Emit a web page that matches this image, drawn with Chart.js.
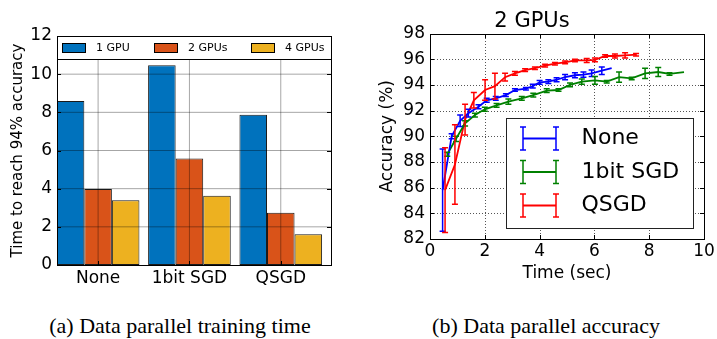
<!DOCTYPE html>
<html><head><meta charset="utf-8">
<script src="https://cdn.jsdelivr.net/npm/chart.js@4.4.1/dist/chart.umd.min.js"></script>
<style>
body{margin:0;background:#fff;width:717px;height:339px;overflow:hidden;position:relative;}
#c1{position:absolute;left:0;top:0;}
#c2{position:absolute;left:360px;top:0;}
.cap{position:absolute;top:313px;font-family:"Liberation Serif";font-size:22px;line-height:26px;white-space:nowrap;transform:translateX(-50%);color:#000;}
</style></head><body>
<canvas id="c1" width="360" height="300"></canvas>
<canvas id="c2" width="357" height="300"></canvas>
<div class="cap" style="left:180px">(a) Data parallel training time</div>
<div class="cap" style="left:546px">(b) Data parallel accuracy</div>
<script>
// ---- Left chart data ----
const methods = ['None', '1bit SGD', 'QSGD'];
const barLabels = ['1 GPU', '2 GPUs', '4 GPUs'];
const gpu1 = [8.6, 10.47, 7.87];
const gpu2 = [3.98, 5.58, 2.74];
const gpu4 = [3.39, 3.63, 1.61];
const leftYTicks = [0, 2, 4, 6, 8, 10, 12];

// ---- Right chart data ----
const lineLabels = ['None', '1bit SGD', 'QSGD'];
const noneT   = [0.46, 0.79, 1.1, 1.4, 1.77, 2.07, 2.4, 2.77, 3.1, 3.5, 3.75, 4.0, 4.32, 4.62, 4.93, 5.29, 5.6, 5.9, 6.27, 6.63];
const noneAcc = [85.8, 90.0, 91.2, 91.8, 92.3, 92.8, 92.95, 93.2, 93.6, 93.7, 93.9, 94.2, 94.25, 94.4, 94.6, 94.75, 94.8, 94.9, 95.1, 95.3];
const noneErr = [3.2, 0.2, 0.45, 0.3, 0.15, 0.15, 0.15, 0.1, 0.1, 0.1, 0.15, 0.15, 0.15, 0.15, 0.2, 0.2, 0.2, 0.25, 0.3, 0];
const sgdT   = [0.63, 0.95, 1.28, 1.64, 2.0, 2.43, 2.86, 3.35, 3.77, 4.26, 4.69, 5.11, 5.54, 6.02, 6.45, 6.9, 7.36, 7.85, 8.33, 8.74, 9.27];
const sgdAcc = [88.6, 89.8, 91.0, 91.65, 92.1, 92.4, 92.7, 92.95, 93.2, 93.55, 93.6, 94.0, 94.25, 94.35, 94.25, 94.6, 94.5, 94.9, 95.0, 94.85, 95.0];
const sgdErr = [0.15, 0.2, 0.2, 0.15, 0.15, 0.15, 0.2, 0.15, 0.15, 0.15, 0.1, 0.15, 0.2, 0.3, 0.1, 0.4, 0.1, 0.4, 0.35, 0.1, 0];
const qsgdT   = [0.55, 0.91, 1.28, 1.6, 2.01, 2.37, 2.74, 3.1, 3.47, 3.83, 4.2, 4.56, 4.93, 5.29, 5.72, 6.02, 6.39, 6.75, 7.12, 7.52];
const qsgdAcc = [85.8, 87.8, 91.3, 92.8, 93.6, 93.9, 94.6, 94.9, 95.15, 95.3, 95.5, 95.65, 95.75, 95.9, 95.9, 95.95, 96.25, 96.25, 96.3, 96.35];
const qsgdErr = [3.3, 3.1, 1.2, 0.6, 0.8, 1.0, 0.3, 0.15, 0.1, 0.1, 0.1, 0.1, 0.1, 0.1, 0.15, 0.15, 0.1, 0.15, 0.2, 0.1];
const accTicks = [82, 84, 86, 88, 90, 92, 94, 96, 98];
const timeTicks = [0, 2, 4, 6, 8, 10];

Chart.defaults.font.family = '"DejaVu Sans"';
Chart.defaults.color = '#000';

const noGrid = {display: false, drawTicks: false};
const noBorder = {display: false};

function drawGridDots(ctx, chart, xVals, yVals, topSkip) {
  const a = chart.chartArea;
  const xs = chart.scales.x, ys = chart.scales.y;
  const L = Math.round(a.left), R = Math.round(a.right), T = Math.round(a.top), B = Math.round(a.bottom);
  ctx.save();
  ctx.fillStyle = '#555';
  xVals.forEach(v => {
    const px = Math.round(xs.getPixelForValue(v));
    if (!(px > L + 1 && px < R - 1)) return;
    for (let yy = T + 1 + topSkip; yy < B; yy += 3) ctx.fillRect(px, yy, 1, 1);
  });
  yVals.forEach(v => {
    const py = Math.round(ys.getPixelForValue(v));
    if (!(py > T + 1 + topSkip && py < B - 1)) return;
    for (let xx = L + 1; xx < R; xx += 3) ctx.fillRect(xx, py, 1, 1);
  });
  ctx.restore();
}

function strokeGridLines(ctx, chart, xVals, yVals, topSkip) {
  const a = chart.chartArea;
  const xs = chart.scales.x, ys = chart.scales.y;
  ctx.save();
  ctx.strokeStyle = 'rgba(0,0,0,0.35)';
  ctx.lineWidth = 1;
  ctx.beginPath();
  xVals.forEach(v => {
    const px = xs.getPixelForValue(v);
    if (!(px > a.left + 1 && px < a.right - 1)) return;
    ctx.moveTo(px, a.top + topSkip); ctx.lineTo(px, a.bottom);
  });
  yVals.forEach(v => {
    const py = ys.getPixelForValue(v);
    if (!(py > a.top + topSkip + 1 && py < a.bottom - 1)) return;
    ctx.moveTo(a.left, py); ctx.lineTo(a.right, py);
  });
  ctx.stroke();
  ctx.restore();
}

function drawFrameTicks(ctx, chart, xVals, yVals) {
  const a = chart.chartArea;
  const xs = chart.scales.x, ys = chart.scales.y;
  const L = Math.round(a.left), R = Math.round(a.right), T = Math.round(a.top), B = Math.round(a.bottom);
  ctx.save();
  ctx.fillStyle = '#000';
  xVals.forEach(v => {
    const px = Math.round(xs.getPixelForValue(v));
    ctx.fillRect(px, B - 4, 1, 4);
    ctx.fillRect(px, T, 1, 4);
  });
  yVals.forEach(v => {
    const py = Math.round(ys.getPixelForValue(v));
    ctx.fillRect(L, py, 4, 1);
    ctx.fillRect(R - 4, py, 4, 1);
  });
  ctx.fillRect(L, T, R - L + 1, 1);
  ctx.fillRect(L, B, R - L + 1, 1);
  ctx.fillRect(L, T, 1, B - T + 1);
  ctx.fillRect(R, T, 1, B - T + 1);
  ctx.restore();
}

const barLegend = {
  id: 'barLegend',
  afterDraw(chart) {
    const {ctx, chartArea: a} = chart;
    const h = 23;
    const L = Math.round(a.left), R = Math.round(a.right), T = Math.round(a.top);
    ctx.save();
    ctx.fillStyle = '#000';
    ctx.fillRect(L, T, R - L + 1, h + 1);
    ctx.fillStyle = '#fff';
    ctx.fillRect(L + 1, T + 1, R - L - 1, h - 1);
    ctx.font = '11px "DejaVu Sans"'; ctx.textBaseline = 'middle';
    let x = L + 5;
    const cy = T + 12;
    chart.data.datasets.forEach(ds => {
      ctx.fillStyle = '#000';
      ctx.fillRect(x, cy - 5, 24, 10);
      ctx.fillStyle = ds.backgroundColor;
      ctx.fillRect(x + 1, cy - 4, 22, 8);
      ctx.fillStyle = '#000';
      ctx.fillText(ds.label, x + 34, cy);
      x = Math.round(x + 34 + ctx.measureText(ds.label).width + 24);
    });
    ctx.restore();
  }
};

const errorBars = {
  id: 'errorBars',
  afterDatasetsDraw(chart) {
    const {ctx, scales: {x, y}} = chart;
    chart.data.datasets.forEach(ds => {
      const err = ds.errors; if (!err) return;
      ctx.save();
      ctx.strokeStyle = ds.borderColor; ctx.lineWidth = 1.5;
      ds.data.forEach((p, i) => {
        const e = err[i]; if (!e) return;
        const px = x.getPixelForValue(p.x);
        const y1 = y.getPixelForValue(p.y - e), y2 = y.getPixelForValue(p.y + e);
        ctx.beginPath();
        ctx.moveTo(px, y1); ctx.lineTo(px, y2);
        ctx.moveTo(px - 3, y1); ctx.lineTo(px + 3, y1);
        ctx.moveTo(px - 3, y2); ctx.lineTo(px + 3, y2);
        ctx.stroke();
      });
      ctx.restore();
    });
  }
};

const lineLegend = {
  id: 'lineLegend',
  afterDraw(chart) {
    const {ctx} = chart;
    const bx = 146, by = 118, bw = 187, bh = 110;
    ctx.save();
    ctx.fillStyle = '#222'; ctx.fillRect(bx, by, bw + 1, bh + 1);
    ctx.fillStyle = '#fff'; ctx.fillRect(bx + 1, by + 1, bw - 1, bh - 1);
    ctx.font = '22px "DejaVu Sans"'; ctx.textBaseline = 'middle';
    const rows = [138.5, 172, 205.5];
    chart.data.datasets.forEach((ds, i) => {
      const cy = rows[i];
      const x1 = 163, x2 = 196;
      ctx.strokeStyle = ds.borderColor; ctx.lineWidth = 1.8;
      ctx.beginPath(); ctx.moveTo(x1, cy); ctx.lineTo(x2, cy); ctx.stroke();
      ctx.lineWidth = 1.5;
      [x1, x2].forEach(px => {
        ctx.beginPath();
        ctx.moveTo(px, cy - 11.5); ctx.lineTo(px, cy + 11.5);
        ctx.moveTo(px - 3, cy - 11.5); ctx.lineTo(px + 3, cy - 11.5);
        ctx.moveTo(px - 3, cy + 11.5); ctx.lineTo(px + 3, cy + 11.5);
        ctx.stroke();
      });
      ctx.fillStyle = '#000';
      ctx.fillText(ds.label, 221.5, cy);
    });
    ctx.restore();
  }
};

const toXY = (arr) => arr.map((v, i) => ({x: i, y: v}));
const barColors = ['#0072BD', '#D95319', '#EDB120'];
const methodIdx = methods.map((m, i) => i);

new Chart(document.getElementById('c1'), {
  type: 'bar',
  data: {
    datasets: [gpu1, gpu2, gpu4].map((d, i) => ({
      label: barLabels[i],
      data: toXY(d),
      backgroundColor: barColors[i],
      borderColor: '#1a1a1a',
      borderWidth: 1,
      borderSkipped: false,
      categoryPercentage: 0.905,
      barPercentage: 1.0
    }))
  },
  options: {
    responsive: false, animation: false,
    layout: {padding: {left: 0, right: 29, top: 36, bottom: 0}},
    plugins: {legend: {display: false}, tooltip: {enabled: false}},
    scales: {
      x: {
        type: 'linear', min: -0.45, max: 2.55, offset: false,
        grid: Object.assign({offset: false}, noGrid), border: noBorder,
        afterBuildTicks: s => { s.ticks = methodIdx.map(i => ({value: i})); },
        afterFit: s => { s.height = 35; },
        ticks: {font: {size: 17}, padding: 3, maxRotation: 0, autoSkip: false,
                callback: v => methods[v]}
      },
      y: {
        min: 0, max: 12,
        grid: noGrid, border: noBorder,
        afterBuildTicks: s => { s.ticks = leftYTicks.map(v => ({value: v})); },
        afterFit: s => { s.width = 57; },
        ticks: {font: {size: 17}, padding: 5},
        title: {display: true, text: 'Time to reach 94% accuracy', font: {size: 15}, padding: {top: 9, bottom: 0}}
      }
    }
  },
  plugins: [
    {id: 'leftGridFrame', afterDraw(chart) {
      strokeGridLines(chart.ctx, chart, methodIdx, leftYTicks, 24);
      drawFrameTicks(chart.ctx, chart, methodIdx, leftYTicks);
    }},
    barLegend
  ]
});

const lineSeries = [
  {t: noneT, v: noneAcc, e: noneErr, c: '#0000FF'},
  {t: sgdT, v: sgdAcc, e: sgdErr, c: '#008000'},
  {t: qsgdT, v: qsgdAcc, e: qsgdErr, c: '#FF0000'}
];

new Chart(document.getElementById('c2'), {
  type: 'line',
  data: {
    datasets: lineSeries.map((s, i) => ({
      label: lineLabels[i],
      data: s.t.map((t, j) => ({x: t, y: s.v[j]})),
      errors: s.e,
      borderColor: s.c,
      backgroundColor: s.c,
      borderWidth: 1.8,
      pointRadius: 0,
      tension: 0,
      fill: false
    }))
  },
  options: {
    responsive: false, animation: false,
    layout: {padding: {left: 0, right: 13, top: 0, bottom: 0}},
    plugins: {
      legend: {display: false}, tooltip: {enabled: false},
      title: {display: true, text: '2 GPUs', color: '#000', font: {size: 21, weight: 'normal', lineHeight: 1}, padding: {top: 11.5, bottom: 1}}
    },
    scales: {
      x: {
        type: 'linear', min: 0, max: 10,
        grid: noGrid, border: noBorder,
        afterBuildTicks: s => { s.ticks = timeTicks.map(v => ({value: v})); },
        afterFit: s => { s.height = 61; },
        ticks: {font: {size: 17}, padding: 2, maxRotation: 0},
        title: {display: true, text: 'Time (sec)', font: {size: 17}, padding: {top: 0, bottom: 16}}
      },
      y: {
        min: 82, max: 98,
        grid: noGrid, border: noBorder,
        afterBuildTicks: s => { s.ticks = accTicks.map(v => ({value: v})); },
        afterFit: s => { s.width = 70; },
        ticks: {font: {size: 17}, padding: 5},
        title: {display: true, text: 'Accuracy (%)', font: {size: 17}, padding: {top: 17, bottom: 0}}
      }
    }
  },
  plugins: [
    {id: 'rightGrid', beforeDatasetsDraw(chart) { drawGridDots(chart.ctx, chart, timeTicks, accTicks, 0); }},
    {id: 'rightFrame', afterDatasetsDraw(chart) { drawFrameTicks(chart.ctx, chart, timeTicks, accTicks); }},
    errorBars, lineLegend
  ]
});
</script>
</body></html>
